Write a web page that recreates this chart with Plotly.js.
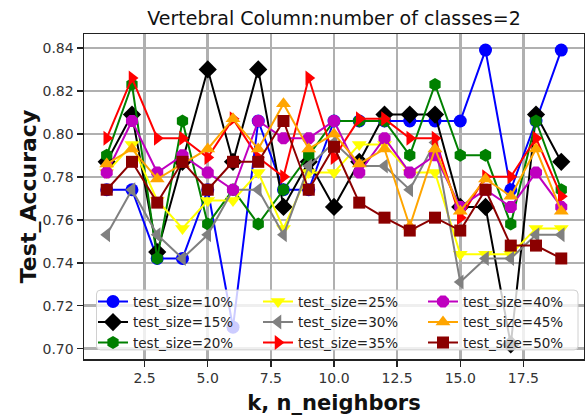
<!DOCTYPE html>
<html>
<head>
<meta charset="utf-8">
<script src="https://cdn.plot.ly/plotly-3.0.1.min.js"></script>
<style>
  html, body { margin: 0; padding: 0; background: #ffffff; }
  #chart { width: 585px; height: 417px; }
</style>
</head>
<body>
<div id="chart"></div>
<script>
// k values (number of neighbours)
const kValues = [1, 2, 3, 4, 5, 6, 7, 8, 9, 10, 11, 12, 13, 14, 15, 16, 17, 18, 19];

// test accuracy per k, one array per test split size
const acc10 = [0.774, 0.774, 0.742, 0.742, 0.774, 0.710, 0.806, 0.774, 0.774, 0.806, 0.806, 0.806, 0.806, 0.806, 0.806, 0.839, 0.774, 0.806, 0.839];
const acc15 = [0.787, 0.809, 0.745, 0.787, 0.830, 0.787, 0.830, 0.766, 0.787, 0.766, 0.787, 0.809, 0.809, 0.809, 0.766, 0.766, 0.702, 0.809, 0.787];
const acc20 = [0.790, 0.823, 0.742, 0.806, 0.758, 0.774, 0.758, 0.774, 0.790, 0.806, 0.806, 0.806, 0.790, 0.823, 0.790, 0.790, 0.758, 0.806, 0.774];
const acc25 = [0.782, 0.795, 0.769, 0.756, 0.769, 0.769, 0.782, 0.756, 0.782, 0.782, 0.795, 0.795, 0.782, 0.782, 0.744, 0.744, 0.744, 0.756, 0.756];
const acc30 = [0.753, 0.774, 0.753, 0.742, 0.753, 0.774, 0.774, 0.753, 0.785, 0.796, 0.785, 0.785, 0.774, 0.796, 0.731, 0.742, 0.742, 0.753, 0.753];
const acc35 = [0.798, 0.826, 0.798, 0.798, 0.789, 0.807, 0.789, 0.780, 0.826, 0.789, 0.807, 0.807, 0.798, 0.798, 0.761, 0.780, 0.780, 0.798, 0.771];
const acc40 = [0.782, 0.806, 0.782, 0.790, 0.782, 0.774, 0.806, 0.798, 0.798, 0.806, 0.782, 0.798, 0.782, 0.790, 0.766, 0.774, 0.766, 0.782, 0.766];
const acc45 = [0.786, 0.793, 0.779, 0.786, 0.793, 0.807, 0.793, 0.814, 0.793, 0.800, 0.786, 0.793, 0.757, 0.793, 0.764, 0.779, 0.771, 0.793, 0.764];
const acc50 = [0.774, 0.787, 0.768, 0.787, 0.774, 0.787, 0.787, 0.806, 0.774, 0.794, 0.768, 0.761, 0.755, 0.761, 0.755, 0.774, 0.748, 0.748, 0.742];

const seriesNames = ['test_size=10%', 'test_size=15%', 'test_size=20%', 'test_size=25%', 'test_size=30%',
                     'test_size=35%', 'test_size=40%', 'test_size=45%', 'test_size=50%'];
const seriesValues = [acc10, acc15, acc20, acc25, acc30, acc35, acc40, acc45, acc50];

// per-series styling
const colors  = ['#0000ff', '#000000', '#008000', '#ffff00', '#808080', '#ff0000', '#bf00bf', '#ffa500', '#8b0000'];
const symbols = ['circle', 'diamond', 'hexagon', 'triangle-down', 'triangle-left', 'triangle-right', 'octagon', 'triangle-up', 'square'];
const sizes   = [13, 14, 13, 13, 13, 13, 13, 13, 12];
// three legend columns, three entries each
const legendIds = ['legend', 'legend', 'legend', 'legend2', 'legend2', 'legend2', 'legend3', 'legend3', 'legend3'];

const traces = seriesValues.map((vals, i) => ({
  type: 'scatter',
  mode: 'lines+markers',
  name: seriesNames[i],
  x: kValues,
  y: vals,
  legend: legendIds[i],
  line: { color: colors[i], width: 2 },
  marker: { color: colors[i], symbol: symbols[i], size: sizes[i], line: { width: 0 } }
}));

const font = 'DejaVu Sans, Verdana, sans-serif';

// legend box (paper coordinates) with slightly rounded corners
const bx0 = 0.025, bx1 = 0.988, by0 = 0.028, by1 = 0.212, rx = 0.008, ry = 0.012;
const framePath =
  `M ${bx0 + rx},${by0} L ${bx1 - rx},${by0} Q ${bx1},${by0} ${bx1},${by0 + ry} ` +
  `L ${bx1},${by1 - ry} Q ${bx1},${by1} ${bx1 - rx},${by1} ` +
  `L ${bx0 + rx},${by1} Q ${bx0},${by1} ${bx0},${by1 - ry} ` +
  `L ${bx0},${by0 + ry} Q ${bx0},${by0} ${bx0 + rx},${by0} Z`;

const legendCommon = {
  orientation: 'v',
  xanchor: 'left',
  yanchor: 'top',
  y: 0.224,
  bgcolor: 'rgba(0,0,0,0)',
  borderwidth: 0,
  tracegroupgap: 0,
  font: { family: font, size: 13.5, color: '#222222' }
};

const layout = {
  width: 585,
  height: 417,
  margin: { l: 84, r: 1, t: 34, b: 58 },
  paper_bgcolor: '#ffffff',
  plot_bgcolor: '#ffffff',
  font: { family: font, color: '#222222', size: 14 },
  showlegend: true,
  title: {
    text: 'Vertebral Column:number of classes=2',
    font: { family: font, size: 19, color: '#111111' },
    x: 0.5, xref: 'paper', xanchor: 'center',
    y: 0.957, yref: 'container', yanchor: 'middle'
  },
  xaxis: {
    range: [0.1, 19.9],
    tick0: 2.5, dtick: 2.5,
    tickformat: '.1f',
    ticks: 'outside', ticklen: 6, tickwidth: 1.5, tickcolor: '#222222',
    tickfont: { family: font, size: 14, color: '#333333' },
    showgrid: true, gridcolor: '#b0b0b0', gridwidth: 2.5,
    showline: true, linecolor: '#222222', linewidth: 1.5, mirror: true,
    zeroline: false,
    title: { text: '<b>k, n_neighbors</b>', font: { family: font, size: 21, color: '#111111' }, standoff: 10 }
  },
  yaxis: {
    range: [0.6952, 0.8465],
    tick0: 0.70, dtick: 0.02,
    tickformat: '.2f',
    ticks: 'outside', ticklen: 6, tickwidth: 1.5, tickcolor: '#222222',
    tickfont: { family: font, size: 14, color: '#333333' },
    showgrid: true, gridcolor: '#b0b0b0', gridwidth: 2.5,
    showline: true, linecolor: '#222222', linewidth: 1.5, mirror: true,
    zeroline: false,
    title: { text: '<b>Test_Accuracy</b>', font: { family: font, size: 22, color: '#111111' }, standoff: 0 }
  },
  legend:  Object.assign({}, legendCommon, { x: 0.018 }),
  legend2: Object.assign({}, legendCommon, { x: 0.348 }),
  legend3: Object.assign({}, legendCommon, { x: 0.678 }),
  shapes: [{
    type: 'path',
    xref: 'paper', yref: 'paper',
    path: framePath,
    layer: 'above',
    fillcolor: 'rgba(255,255,255,0.8)',
    line: { color: '#d0d0d0', width: 1 }
  }]
};

Plotly.newPlot('chart', traces, layout, { displayModeBar: false, staticPlot: true });
</script>
</body>
</html>
